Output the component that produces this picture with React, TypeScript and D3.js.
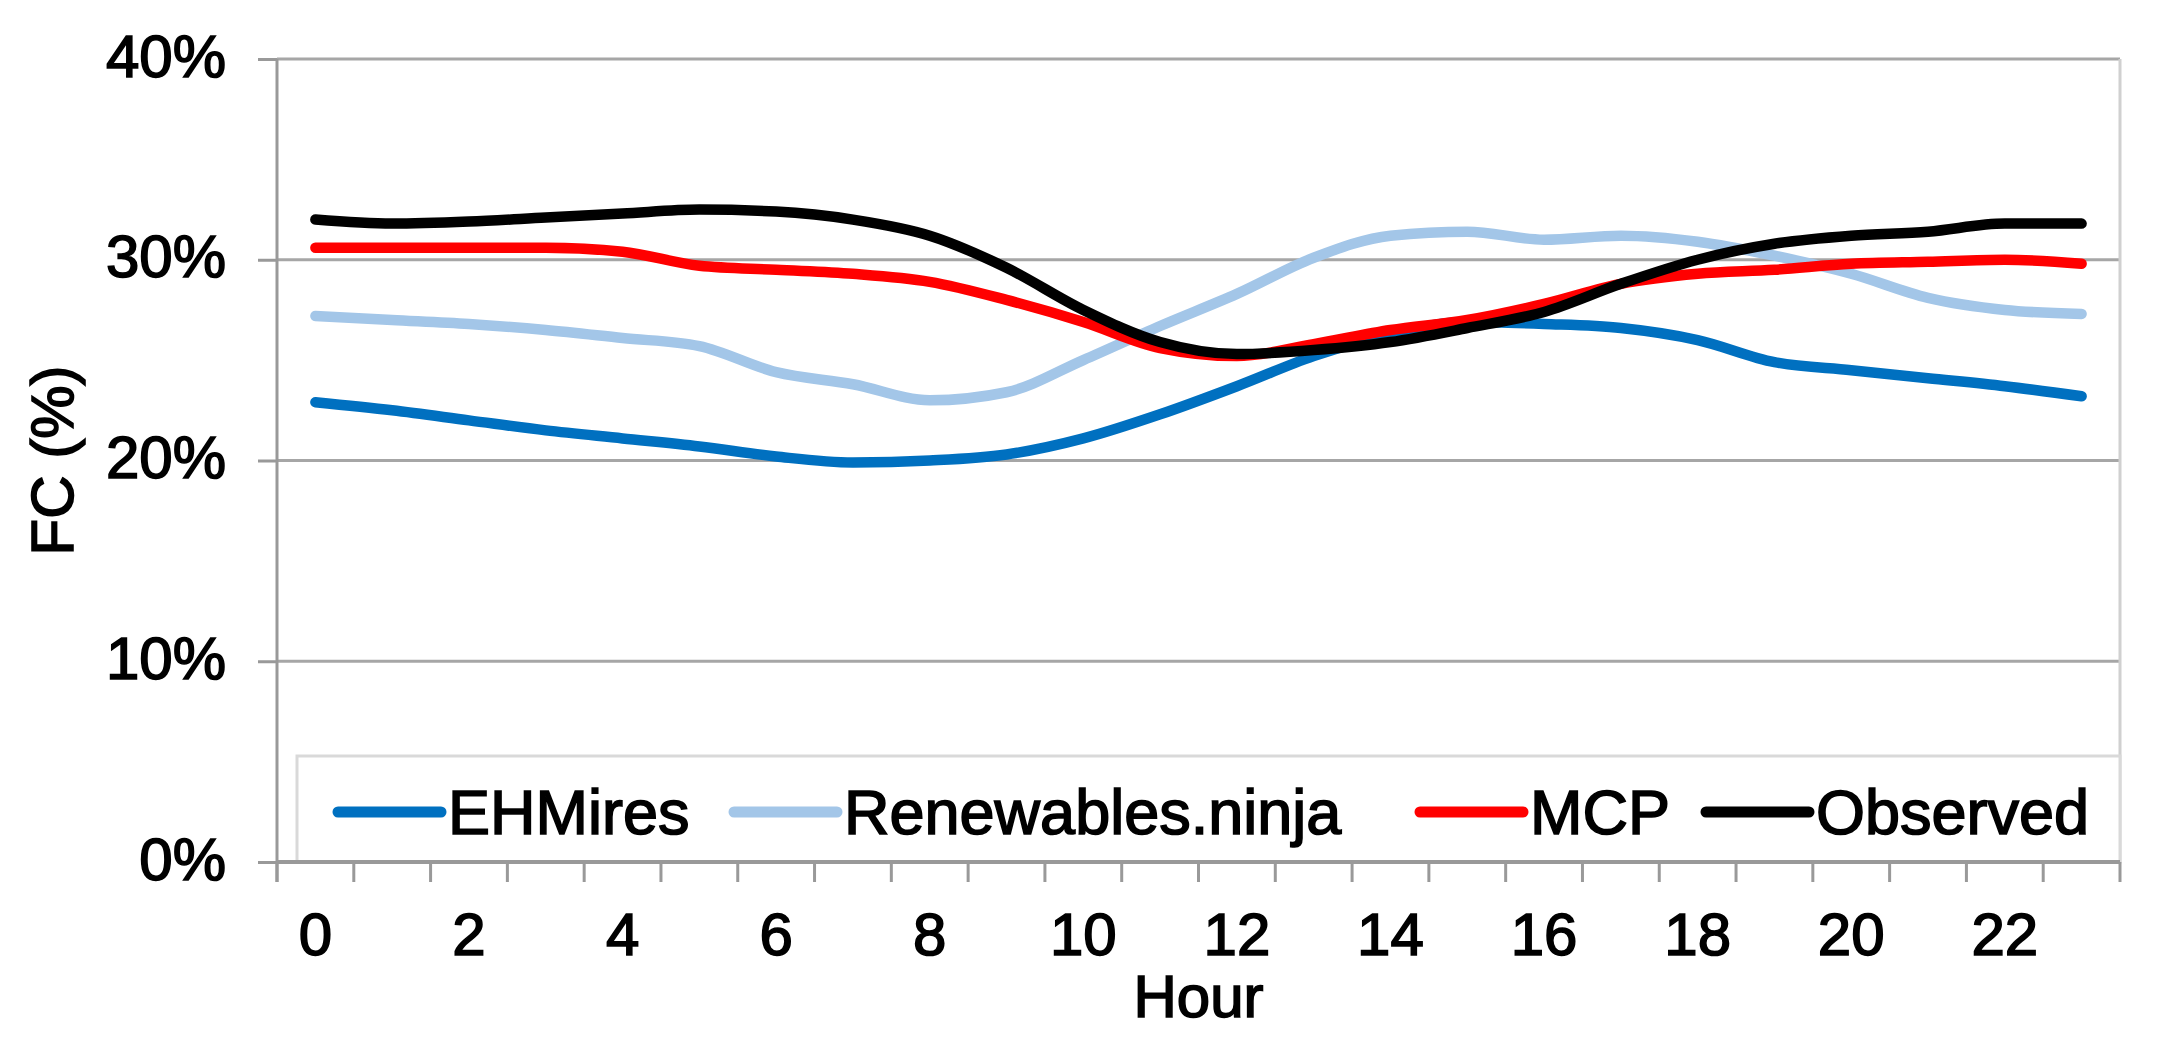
import React, { useEffect, useRef } from "react";
import * as d3 from "d3";

const hours = d3.range(0, 24);
const hourTicks = [0, 2, 4, 6, 8, 10, 12, 14, 16, 18, 20, 22];
const yTicks = [0, 10, 20, 30, 40];

const ehmires = [22.9, 22.5, 22.0, 21.5, 21.1, 20.7, 20.2, 19.9, 20.0, 20.3, 21.1, 22.3, 23.7, 25.2, 26.3, 26.9, 26.8, 26.6, 26.0, 24.9, 24.5, 24.1, 23.7, 23.2];
const ninja = [27.2, 27.0, 26.8, 26.5, 26.1, 25.7, 24.4, 23.8, 23.0, 23.4, 25.0, 26.7, 28.3, 30.1, 31.2, 31.4, 31.0, 31.2, 30.9, 30.2, 29.3, 28.1, 27.5, 27.3];
const mcp = [30.6, 30.6, 30.6, 30.6, 30.4, 29.7, 29.5, 29.3, 28.9, 28.0, 26.9, 25.6, 25.2, 25.8, 26.5, 27.0, 27.8, 28.8, 29.3, 29.5, 29.8, 29.9, 30.0, 29.8];
const observed = [32.0, 31.8, 31.9, 32.1, 32.3, 32.5, 32.4, 32.0, 31.2, 29.6, 27.5, 25.9, 25.3, 25.5, 25.9, 26.6, 27.4, 28.8, 30.0, 30.8, 31.2, 31.4, 31.8, 31.8];

const seriesNames = ["EHMires", "Renewables.ninja", "MCP", "Observed"];
const seriesValues = [ehmires, ninja, mcp, observed];
const seriesColors = ["#0070c0", "#a3c6e8", "#ff0000", "#000000"];

const App: React.FC = () => {
  const svgRef = useRef<SVGSVGElement | null>(null);
  const width = 2158;
  const height = 1041;
  const left = 277;
  const right = 2120;
  const top = 59;
  const bottom = 862;
  const font = "'Liberation Sans', Arial, sans-serif";

  useEffect(() => {
    const svg = d3.select(svgRef.current);
    svg.selectAll("*").remove();

    const x = d3
      .scaleBand<number>()
      .domain(hours)
      .range([left, right]);
    const xc = (h: number) => (x(h) as number) + x.bandwidth() / 2;

    const y = d3.scaleLinear().domain([0, 40]).range([bottom, top]);

    // heavier text like the scanned figure
    const heavy = (sel: any) =>
      sel
        .attr("font-family", font)
        .attr("fill", "#000")
        .attr("stroke", "#000")
        .attr("stroke-width", 1.6)
        .attr("paint-order", "stroke");

    // gridlines
    svg
      .append("g")
      .selectAll("line")
      .data(yTicks.filter((t) => t > 0))
      .enter()
      .append("line")
      .attr("x1", left)
      .attr("x2", right)
      .attr("y1", (d) => y(d))
      .attr("y2", (d) => y(d))
      .attr("stroke", "#a6a6a6")
      .attr("stroke-width", 3);

    // right border of plot area
    svg
      .append("line")
      .attr("x1", right)
      .attr("x2", right)
      .attr("y1", top)
      .attr("y2", bottom)
      .attr("stroke", "#d0d0d0")
      .attr("stroke-width", 3);

    // y axis
    const yAxis = d3
      .axisLeft(y)
      .tickValues(yTicks)
      .tickSize(19)
      .tickFormat((d) => `${d}%`);
    const gy = svg
      .append("g")
      .attr("transform", `translate(${left},0)`)
      .call(yAxis);
    gy.select(".domain").remove();
    gy.selectAll(".tick line").attr("stroke", "#999").attr("stroke-width", 3);
    gy.selectAll(".tick text")
      .attr("x", -51)
      .attr("dy", null)
      .attr("y", 17)
      .attr("font-size", 60)
      .call(heavy);
    svg
      .append("line")
      .attr("x1", left)
      .attr("x2", left)
      .attr("y1", top)
      .attr("y2", bottom + 20)
      .attr("stroke", "#999")
      .attr("stroke-width", 3);

    // legend box (inside plot, behind lines)
    const legendTop = 756;
    svg
      .append("rect")
      .attr("x", 297)
      .attr("y", legendTop)
      .attr("width", right - 297)
      .attr("height", bottom - legendTop)
      .attr("fill", "#fff")
      .attr("stroke", "#d9d9d9")
      .attr("stroke-width", 3);

    // x axis
    svg
      .append("line")
      .attr("x1", left)
      .attr("x2", right)
      .attr("y1", bottom)
      .attr("y2", bottom)
      .attr("stroke", "#999")
      .attr("stroke-width", 4);
    const boundaries = hours.map((h) => x(h) as number).concat([right]);
    svg
      .append("g")
      .selectAll("line")
      .data(boundaries)
      .enter()
      .append("line")
      .attr("x1", (d) => d)
      .attr("x2", (d) => d)
      .attr("y1", bottom)
      .attr("y2", bottom + 20)
      .attr("stroke", "#999")
      .attr("stroke-width", 3);
    svg
      .append("g")
      .selectAll("text")
      .data(hourTicks)
      .enter()
      .append("text")
      .attr("x", (d) => xc(d))
      .attr("y", 955)
      .attr("text-anchor", "middle")
      .attr("font-size", 60)
      .call(heavy)
      .text((d) => d);

    // axis titles
    svg
      .append("text")
      .attr("x", (left + right) / 2)
      .attr("y", 1017)
      .attr("text-anchor", "middle")
      .attr("font-size", 60)
      .call(heavy)
      .text("Hour");
    svg
      .append("text")
      .attr("transform", `translate(73, ${(top + bottom) / 2}) rotate(-90)`)
      .attr("text-anchor", "middle")
      .attr("font-size", 60)
      .call(heavy)
      .text("FC (%)");

    // series
    const line = d3
      .line<number>()
      .x((_, i) => xc(hours[i]))
      .y((d) => y(d))
      .curve(d3.curveMonotoneX);
    seriesValues.forEach((vals, k) => {
      svg
        .append("path")
        .datum(vals)
        .attr("d", line)
        .attr("fill", "none")
        .attr("stroke", seriesColors[k])
        .attr("stroke-width", 10.5)
        .attr("stroke-linecap", "round")
        .attr("stroke-linejoin", "round");
    });

    // legend items
    const legendX = [338, 734, 1420, 1706];
    const legendY = 812;
    const items = svg
      .append("g")
      .selectAll("g")
      .data(seriesNames)
      .enter()
      .append("g")
      .attr("transform", (_, i) => `translate(${legendX[i]},${legendY})`);
    items
      .append("line")
      .attr("x1", 0)
      .attr("x2", 103)
      .attr("stroke", (_, i) => seriesColors[i])
      .attr("stroke-width", 11)
      .attr("stroke-linecap", "round");
    items
      .append("text")
      .attr("x", 110)
      .attr("y", 22)
      .attr("font-size", 63)
      .call(heavy)
      .text((d) => d);
  }, []);

  return (
    <svg
      ref={svgRef}
      width={width}
      height={height}
      style={{ position: "absolute", left: 0, top: 0, background: "#fff" }}
    ></svg>
  );
};

export default App;
